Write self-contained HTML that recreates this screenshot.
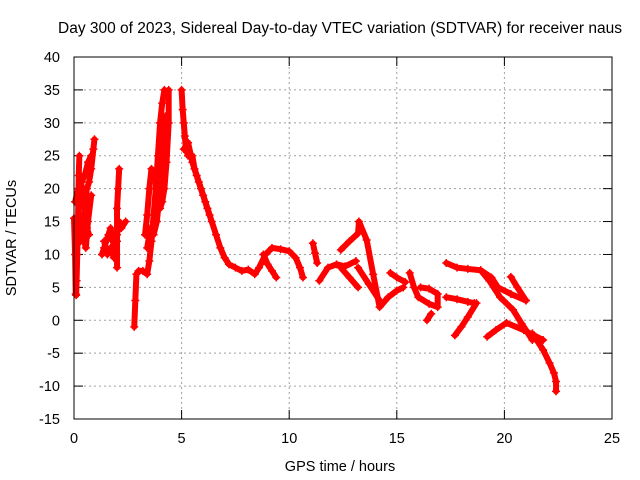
<!DOCTYPE html>
<html><head><meta charset="utf-8"><style>
body{margin:0;background:#fff}
svg{display:block;font-family:"Liberation Sans",sans-serif}
</style></head><body>
<svg id="c" width="640" height="480" viewBox="0 0 640 480">
<rect width="640" height="480" fill="#fff"/>
<text x="340" y="33" font-size="15.5" text-anchor="middle">Day 300 of 2023, Sidereal Day-to-day VTEC variation (SDTVAR) for receiver naus</text>
<text x="340" y="471" font-size="14.5" text-anchor="middle">GPS time / hours</text>
<text x="16" y="238" font-size="14.5" text-anchor="middle" transform="rotate(-90 16 238)">SDTVAR / TECUs</text>
<g id="grid"></g>
<g id="ticks"></g>
<g id="marks"></g>
<rect x="74" y="57" width="538" height="362" fill="none" stroke="#000" stroke-width="1"/>
</svg>
<script>
const xTicks=[0,5,10,15,20,25];
const yTicks=[-15,-10,-5,0,5,10,15,20,25,30,35,40];
const trackA=[[0.0,15.5],[0.05,10],[0.08,4],[0.1,3.8],[0.12,6],[0.15,10],[0.18,14],[0.2,18],[0.22,22],[0.25,25]];
const trackB=[[0.3,12],[0.4,15],[0.5,17],[0.55,19],[0.6,20],[0.7,21],[0.8,23],[0.9,26],[0.95,27.5]];
const trackC=[[0.3,22],[0.4,19],[0.5,16],[0.6,14],[0.7,13]];
const trackC2=[[0.05,18],[0.2,20],[0.35,21],[0.5,22],[0.65,24],[0.8,25]];
const trackC3=[[0.1,12],[0.25,14],[0.4,13],[0.55,11],[0.65,15],[0.8,19]];
const trackD=[[1.3,10],[1.4,11],[1.5,12],[1.6,13],[1.7,14],[1.8,12],[1.9,11],[2.0,13],[2.1,15],[2.2,14],[2.4,15]];
const trackD2=[[1.4,12],[1.55,10],[1.7,11],[1.85,9.5]];
const trackE=[[2.0,8],[2.0,12],[2.0,17],[2.05,20],[2.1,23]];
const trackF=[[2.8,-1],[2.85,3],[2.9,7],[3.0,7.5],[3.2,7.5],[3.4,7],[3.5,9],[3.6,12],[3.7,16],[3.8,20],[3.9,25],[4.0,30],[4.1,33],[4.2,35]];
const trackG=[[3.3,13],[3.4,16],[3.5,20],[3.6,23],[3.7,22],[3.8,21],[3.9,19],[4.0,17],[4.1,18],[4.2,20],[4.3,24],[4.4,30],[4.4,35]];
const trackG2=[[3.4,11],[3.55,14],[3.7,13],[3.85,15],[4.0,20],[4.1,26],[4.25,31]];
const trackH=[[5.0,35],[5.05,32],[5.1,30],[5.15,28],[5.2,26],[5.3,25],[5.5,25],[5.6,23],[5.8,21],[6.0,19],[6.2,17],[6.4,15],[6.6,13],[6.8,11],[7.0,9.5],[7.2,8.5],[7.5,8],[7.8,7.5],[8.1,7.7],[8.4,7],[8.6,8],[8.9,10],[9.2,11],[9.6,10.8],[10,10.5],[10.3,9.5],[10.5,8],[10.64,6.5]];
const trackH2=[[5.1,26],[5.3,27],[5.5,24],[5.7,22],[5.9,20],[6.1,18],[6.3,16]];
const trackI=[[8.8,10],[9.0,8.5],[9.2,7.5],[9.4,6.5]];
const trackJ=[[11.1,11.7],[11.2,10.2],[11.3,8.7]];
const trackK=[[11.4,6],[11.8,8],[12.2,8.5],[12.6,8.2],[13.1,9]];
const trackL=[[12.4,10.7],[12.8,12],[13.2,13.2],[13.24,15],[13.6,12.2],[13.9,7],[14.2,2],[14.6,3.5],[15.0,4.5],[15.3,5]];
const trackM=[[12.4,8],[12.8,6.5],[13.2,5]];
const trackN=[[13.2,8],[13.7,5.5],[14.2,3]];
const trackN2=[[14.7,7.2],[15.0,6.5],[15.4,5.8]];
const trackO=[[15.6,7.2],[15.8,5],[16.0,3.5],[16.5,2.5],[16.9,2],[16.9,4],[16.5,4.8],[16.1,5]];
const trackO2=[[16.4,0],[16.6,1]];
const trackP=[[17.3,8.7],[17.8,8],[18.3,7.8],[18.9,7.6],[19.4,6.5],[19.7,5],[20.3,4],[21.0,3]];
const trackQ=[[17.3,3.5],[17.8,3.2],[18.3,2.8],[18.6,2.6]];
const trackR=[[17.7,-2.3],[18.0,-1],[18.3,0.5],[18.7,2.6]];
const trackS=[[18.9,7.6],[19.3,6],[19.8,3.5],[20.4,1.6],[20.8,-0.5],[21.3,-3]];
const trackT=[[19.2,-2.5],[19.6,-1.5],[20.1,-0.4],[20.9,-1.5],[21.8,-3]];
const trackU=[[20.3,6.6],[20.6,5],[21.0,3]];
const trackV=[[21.3,-2],[21.8,-4.5],[22.1,-6.5],[22.3,-8],[22.4,-9.3],[22.4,-10.8]];
const tracks=[trackA,trackB,trackC,trackC2,trackC3,trackD,trackD2,trackE,trackF,trackG,trackG2,trackH,trackH2,trackI,trackJ,trackK,trackL,trackM,trackN,trackN2,trackO,trackO2,trackP,trackQ,trackR,trackS,trackT,trackU,trackV];
const NS='http://www.w3.org/2000/svg';
const X=t=>74+t*538/25;
const Y=v=>57+(40-v)*362/55;
function mk(tag,attrs,parent){const e=document.createElementNS(NS,tag);for(const k in attrs)e.setAttribute(k,attrs[k]);parent.appendChild(e);return e;}
const grid=document.getElementById('grid'),ticks=document.getElementById('ticks'),marks=document.getElementById('marks'),svg=document.getElementById('c');
xTicks.forEach(t=>{
  if(t>0&&t<25){const g=mk('line',{x1:X(t),x2:X(t),y1:57,y2:419,stroke:'#a0a0a0','stroke-dasharray':'2,3'},grid);
  
  }
  const a=mk('line',{x1:X(t),x2:X(t),y1:419,y2:410,stroke:'#000'},ticks);
  
  
  const b=mk('line',{x1:X(t),x2:X(t),y1:57,y2:66,stroke:'#000'},ticks);
  
  
  const l=mk('text',{x:X(t),y:443,'font-size':14.5,'text-anchor':'middle'},svg);l.textContent=t;
  
  
});
yTicks.forEach(v=>{
  if(v>-15&&v<40){const g=mk('line',{x1:74,x2:612,y1:Y(v),y2:Y(v),stroke:'#a0a0a0','stroke-dasharray':'2,3'},grid);
  
  }
  const a=mk('line',{x1:74,x2:83,y1:Y(v),y2:Y(v),stroke:'#000'},ticks);
  
  
  const b=mk('line',{x1:603,x2:612,y1:Y(v),y2:Y(v),stroke:'#000'},ticks);
  
  
  const l=mk('text',{x:60,y:Y(v)+5,'font-size':14.5,'text-anchor':'end'},svg);l.textContent=v;
  
  
});
tracks.forEach(tr=>{
  const p=mk('polyline',{points:tr.map(d=>X(d[0])+','+Y(d[1])).join(' '),fill:'none',stroke:'#f00','stroke-width':6,'stroke-linejoin':'round','stroke-linecap':'round'},marks);
  
  
  tr.forEach(d=>{
    const x=X(d[0]),y=Y(d[1]);
    const m=mk('path',{d:`M${x-4},${y}H${x+4}M${x},${y-4}V${y+4}`,stroke:'#f00','stroke-width':1.5},marks);
    
    
  });
});
</script>
</body></html>
